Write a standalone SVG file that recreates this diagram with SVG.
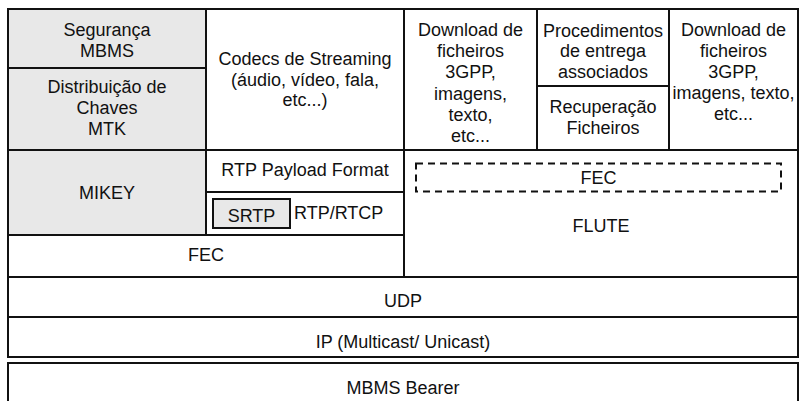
<svg xmlns="http://www.w3.org/2000/svg" width="800" height="401" viewBox="0 0 800 401">
<style>
.box{fill:#ffffff;stroke:#111111;stroke-width:2}
.gray{fill:#e8e8e8;stroke:#111111;stroke-width:2}
.dash{fill:none;stroke:#111111;stroke-width:2;stroke-dasharray:7 5}
text{font-family:"Liberation Sans",Arial,sans-serif;font-size:18px;fill:#111111;text-anchor:middle}
.left{text-anchor:start}
</style>
<rect x="0" y="0" width="800" height="401" fill="#ffffff"/>
<g id="seguranca"><rect class="gray" x="8" y="9" width="198" height="59"/><text x="107" y="36">Segurança</text><text x="107" y="57">MBMS</text></g>
<g id="distribuicao"><rect class="gray" x="8" y="68" width="198" height="82"/><text x="107" y="93">Distribuição de</text><text x="107" y="114">Chaves</text><text x="107" y="135">MTK</text></g>
<g id="codecs"><rect class="box" x="206" y="9" width="198" height="141"/><text x="305" y="65">Codecs de Streaming</text><text x="305" y="85.5">(áudio, vídeo, fala,</text><text x="305" y="106">etc...)</text></g>
<g id="download1"><rect class="box" x="404" y="9" width="133" height="141"/><text x="470.5" y="36">Download de</text><text x="470.5" y="57.2">ficheiros</text><text x="470.5" y="78.4">3GPP,</text><text x="470.5" y="99.6">imagens,</text><text x="470.5" y="120.8">texto,</text><text x="470.5" y="142">etc...</text></g>
<g id="procedimentos"><rect class="box" x="537" y="9" width="132" height="77"/><text x="603" y="37">Procedimentos</text><text x="603" y="57">de entrega</text><text x="603" y="78">associados</text></g>
<g id="recuperacao"><rect class="box" x="537" y="86" width="132" height="64"/><text x="603" y="113">Recuperação</text><text x="603" y="134">Ficheiros</text></g>
<g id="download2"><rect class="box" x="669" y="9" width="129" height="141"/><text x="733.5" y="36">Download de</text><text x="733.5" y="57">ficheiros</text><text x="733.5" y="78">3GPP,</text><text x="733.5" y="99">imagens, texto,</text><text x="733.5" y="120">etc...</text></g>
<g id="mikey"><rect class="gray" x="8" y="150" width="198" height="85"/><text x="107" y="198.5">MIKEY</text></g>
<g id="rtp-payload"><rect class="box" x="206" y="150" width="198" height="42"/><text x="305" y="176">RTP Payload Format</text></g>
<g id="rtp-rtcp"><rect class="box" x="206" y="192" width="198" height="43"/><text class="left" x="294" y="218.5">RTP/RTCP</text></g>
<g id="srtp"><rect class="gray" x="213" y="199" width="77" height="29"/><text x="251.5" y="221.5">SRTP</text></g>
<g id="fec-left"><rect class="box" x="8" y="235" width="396" height="42"/><text x="206" y="261">FEC</text></g>
<g id="flute"><rect class="box" x="404" y="150" width="394" height="127"/><text x="601" y="232">FLUTE</text></g>
<g id="fec-flute"><rect class="dash" x="416" y="163.5" width="365" height="28"/><text x="598.5" y="184">FEC</text></g>
<g id="udp"><rect class="box" x="8" y="277" width="790" height="40"/><text x="403" y="306.7">UDP</text></g>
<g id="ip"><rect class="box" x="8" y="317" width="790" height="40"/><text x="403" y="347.5">IP (Multicast/ Unicast)</text></g>
<g id="mbms-bearer"><rect class="box" x="8" y="363" width="790" height="44"/><text x="403" y="394">MBMS Bearer</text></g>
<g id="connectors"></g>
</svg>
